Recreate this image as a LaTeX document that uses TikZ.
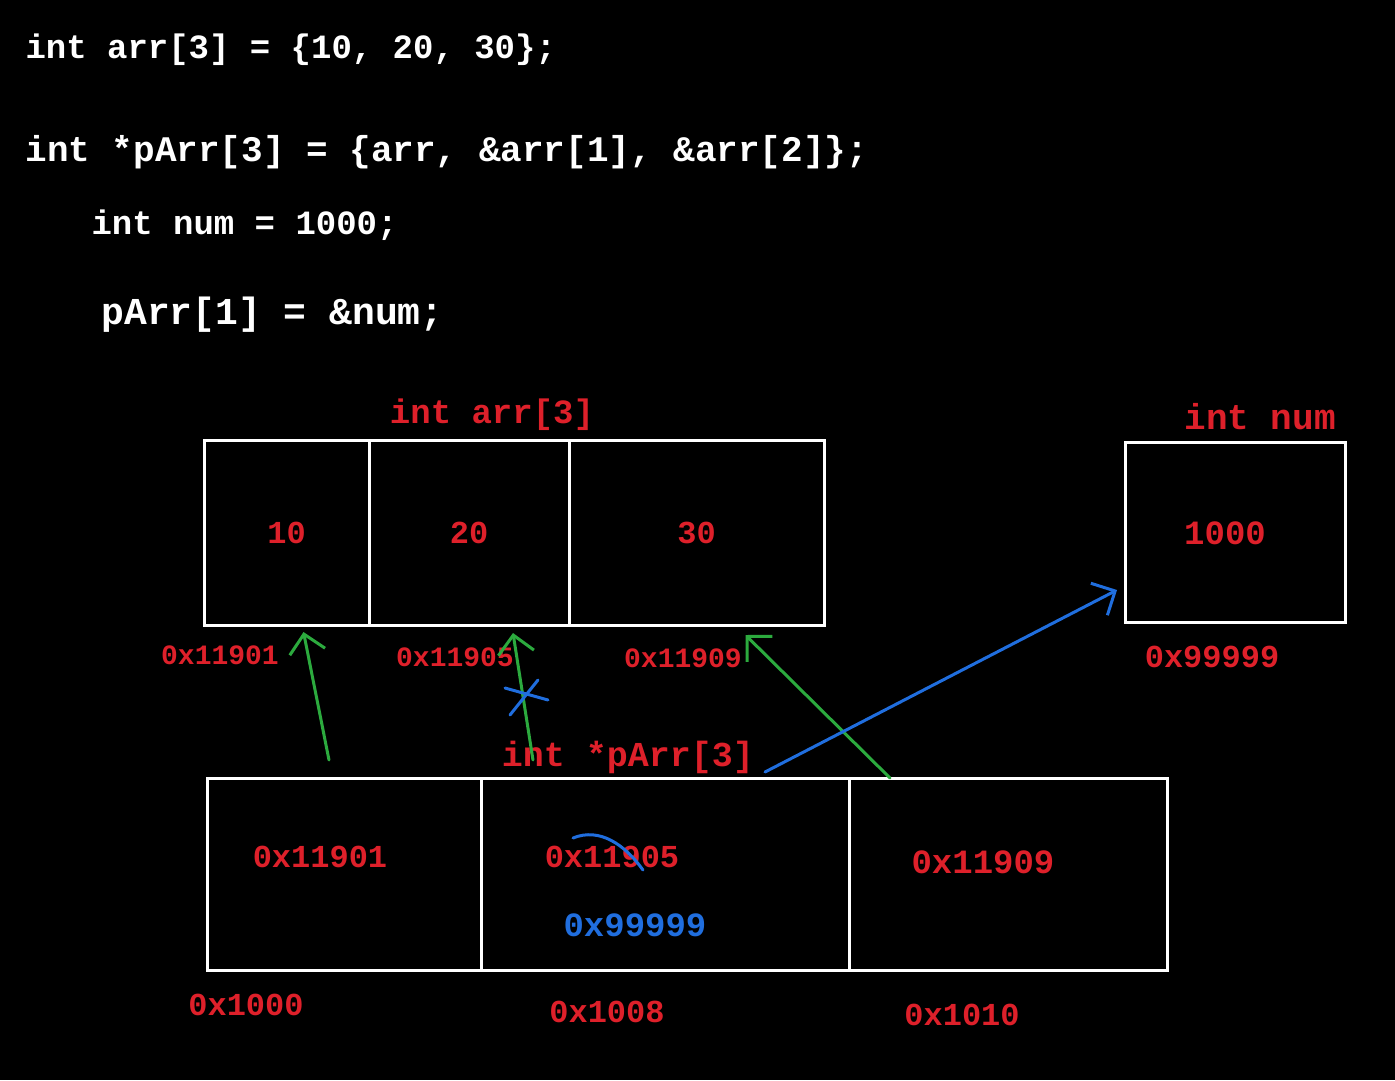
\documentclass[tikz,border=0pt]{standalone}
\usepackage{fontspec}
\setmainfont{Liberation Mono}
\usetikzlibrary{arrows.meta,positioning}
\definecolor{inkred}{RGB}{222,32,42}
\definecolor{inkgreen}{RGB}{44,170,62}
\definecolor{inkblue}{RGB}{32,110,222}

\begin{document}
\begin{tikzpicture}[x=1pt,y=-1pt,
      code/.style={anchor=west,text=white,font=\bfseries\fontsize{34}{40}\selectfont},
      cell/.style={
         rectangle,
         draw=white,
         line width=3pt,
         outer sep=0pt,
         inner sep=0pt,
         text=inkred,
         font=\bfseries\fontsize{32}{38}\selectfont
      },
      topcell/.style={cell,minimum height=185},
      ptrcell/.style={cell,minimum height=192},
      note/.style={text=inkred,font=\bfseries\fontsize{32}{38}\selectfont},
      addr/.style={text=inkred,font=\bfseries\fontsize{28}{34}\selectfont},
      ptr/.style={draw=inkgreen,line width=3pt,line cap=round,
         -{Straight Barb[length=18pt,width=36pt,line width=3pt]}},
      newptr/.style={ptr,draw=inkblue},
      crossout/.style={draw=inkblue,line width=3pt,line cap=round}
    ]
    \fill[black] (0,0) rectangle (1395,1080);
    \useasboundingbox (0,0) rectangle (1395,1080);
    % code
    \node (l1) [code] at (22,50) {int arr[3] = \{10, 20, 30\};};
    \node (l2) [code,font=\bfseries\fontsize{36}{42}\selectfont] at (22,152) {int *pArr[3] = \{arr, \&arr[1], \&arr[2]\};};
    \node (l3) [code] at (88,225) {int num = 1000;};
    \node (l4) [code,font=\bfseries\fontsize{38}{44}\selectfont] at (98,315) {pArr[1] = \&num;};
    % int arr[3]
    \node (arr0) [topcell,minimum width=165] at (286.5,532.5) {10};
    \node (arr1) [topcell,minimum width=200,right=0pt of arr0] {20};
    \node (arr2) [topcell,minimum width=255,right=0pt of arr1] {30};
    \node (arrname) [note,font=\bfseries\fontsize{34}{40}\selectfont] at (492,415) {int arr[3]};
    \node (a0) [addr] at (220,655) {0x11901};
    \node (a1) [addr] at (455,657) {0x11905};
    \node (a2) [addr] at (683,658) {0x11909};
    % int num
    \node (num) [cell,minimum width=220,minimum height=180] at (1235,532) {};
    \node (numval) [note,font=\bfseries\fontsize{34}{40}\selectfont] at (1225,533) {1000};
    \node (numname) [note,font=\bfseries\fontsize{36}{42}\selectfont] at (1260,417) {int num};
    \node (anum) [addr,font=\bfseries\fontsize{32}{38}\selectfont] at (1212,657) {0x99999};
    % int *pArr[3]
    \node (p0) [ptrcell,minimum width=274] at (344,874) {};
    \node (p1) [ptrcell,minimum width=368,right=0pt of p0] {};
    \node (p2) [ptrcell,minimum width=318,right=0pt of p1] {};
    \node (pname) [note,font=\bfseries\fontsize{35}{41}\selectfont] at (628,757) {int *pArr[3]};
    \node (v0) [note] at (320,857) {0x11901};
    \node (v1) [note] at (612,857) {0x11905};
    \node (v1new) [note,text=inkblue,font=\bfseries\fontsize{34}{40}\selectfont] at (635,925) {0x99999};
    \node (v2) [note,font=\bfseries\fontsize{34}{40}\selectfont] at (983,862) {0x11909};
    \node (b0) [addr,font=\bfseries\fontsize{32}{38}\selectfont] at (246,1005) {0x1000};
    \node (b1) [addr,font=\bfseries\fontsize{32}{38}\selectfont] at (607,1012) {0x1008};
    \node (b2) [addr,font=\bfseries\fontsize{32}{38}\selectfont] at (962,1015) {0x1010};
    % pointers
    \draw[ptr] ([shift={(-15,-18)}]p0.north) -- ([shift={(17,7)}]arr0.south);
    \draw[ptr] ([shift={(-132,-18)}]p1.north) -- ([shift={(44,8)}]arr1.south);
    \draw[ptr] ([shift={(-118,0)}]p2.north) -- ([shift={(49,10)}]arr2.south);
    \draw[newptr] ([shift={(100,-6)}]p1.north) -- ([shift={(-8,58)}]num.west);
    % crossed out
    \draw[crossout] ([shift={(-39,-19)}]v1.center) .. controls ([shift={(-12,-30)}]v1.center)
       and ([shift={(13,-12)}]v1.center) .. ([shift={(31,13)}]v1.center);
    \draw[crossout] (510,715) -- (538,680);
    \draw[crossout] (505,688) -- (548,700);
\end{tikzpicture}
\end{document}
